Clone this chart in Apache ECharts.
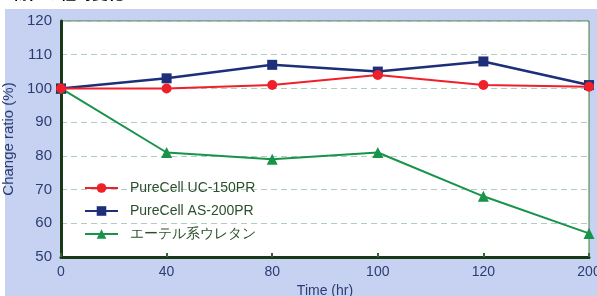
<!DOCTYPE html>
<html style="height: 100%">
<head>
    <meta charset="utf-8">
    <title>Change ratio</title>
</head>
<body style="height: 100%; margin: 0; background: #fff">
<div id="container" style="width: 597px; height: 296px"></div>
<script type="text/javascript" src="https://cdn.jsdelivr.net/npm/echarts@6/dist/echarts.min.js"></script>
<script type="text/javascript">
    // 横軸 (Time, hr) と各シリーズの値
    var times = ['0', '40', '80', '100', '120', '200'];
    var seriesNames = ['PureCell UC-150PR', 'PureCell AS-200PR', 'エーテル系ウレタン'];
    var uc150 = [100, 100, 101, 104, 101, 100.5];
    var as200 = [100, 103, 107, 105, 108, 101];
    var ether = [100, 81, 79, 81, 68, 57];

    var dom = document.getElementById('container');
    var myChart = echarts.init(dom, null, {renderer: 'canvas'});

    var labelColor = '#2b3c72';

    var option = {
        animation: false,
        backgroundColor: '#ffffff',
        graphic: [
            {
                type: 'rect',
                left: 5, top: 9,
                shape: {width: 592, height: 287},
                style: {fill: '#c7d2f2'},
                z: -10
            },
            {
                type: 'text',
                left: 12, top: -15,
                style: {text: '物性の経時変化', fill: '#000', font: 'bold 16px "Noto Sans CJK JP"'},
                z: -5
            }
        ],
        grid: {
            left: 61, right: 8, top: 21, bottom: 39,
            outerBoundsMode: 'none',
            containLabel: false,
            show: true,
            backgroundColor: '#ffffff',
            borderColor: '#3f7a3f',
            borderWidth: 1
        },
        legend: {
            orient: 'vertical',
            left: 79,
            top: 176,
            itemWidth: 33,
            itemHeight: 12,
            itemGap: 9,
            textStyle: {
                color: '#2a4f2c',
                fontSize: 14,
                fontFamily: 'Liberation Sans, Arial, sans-serif',
                padding: [0, 0, 0, 7]
            },
            data: seriesNames
        },
        xAxis: {
            type: 'category',
            boundaryGap: false,
            data: times,
            name: 'Time (hr)',
            nameLocation: 'middle',
            nameGap: 24,
            nameTextStyle: {color: labelColor, fontSize: 14, fontFamily: 'Liberation Sans, Arial'},
            axisLine: {lineStyle: {color: '#183818', width: 3}},
            axisTick: {inside: true, length: 4, lineStyle: {color: '#2e6a2e', width: 2}},
            axisLabel: {color: labelColor, fontSize: 14, margin: 8, fontFamily: 'Liberation Sans, Arial'}
        },
        yAxis: {
            type: 'value',
            min: 50,
            max: 120,
            interval: 10,
            name: 'Change ratio (%)',
            nameLocation: 'middle',
            nameGap: 38,
            nameTextStyle: {color: labelColor, fontSize: 15, fontFamily: 'Liberation Sans, Arial'},
            axisLine: {show: true, lineStyle: {color: '#183818', width: 3}},
            axisTick: {show: false},
            axisLabel: {color: labelColor, fontSize: 15, margin: 9, fontFamily: 'Liberation Sans, Arial'},
            splitLine: {
                show: true,
                lineStyle: {color: '#b0cdbf', type: [6, 4], width: 1}
            }
        },
        series: [
            {
                name: seriesNames[2],
                type: 'line',
                data: ether,
                symbol: 'triangle',
                symbolSize: 11,
                lineStyle: {color: '#17934a', width: 2},
                itemStyle: {color: '#17934a'},
                z: 2
            },
            {
                name: seriesNames[1],
                type: 'line',
                data: as200,
                symbol: 'rect',
                symbolSize: 10,
                lineStyle: {color: '#1c2f78', width: 2.5},
                itemStyle: {color: '#1c2f78'},
                z: 3
            },
            {
                name: seriesNames[0],
                type: 'line',
                data: uc150,
                symbol: 'circle',
                symbolSize: 10,
                lineStyle: {color: '#f0202a', width: 2},
                itemStyle: {color: '#f0202a'},
                z: 4
            }
        ]
    };

    myChart.setOption(option);
    window.addEventListener('resize', myChart.resize);
</script>
</body>
</html>
